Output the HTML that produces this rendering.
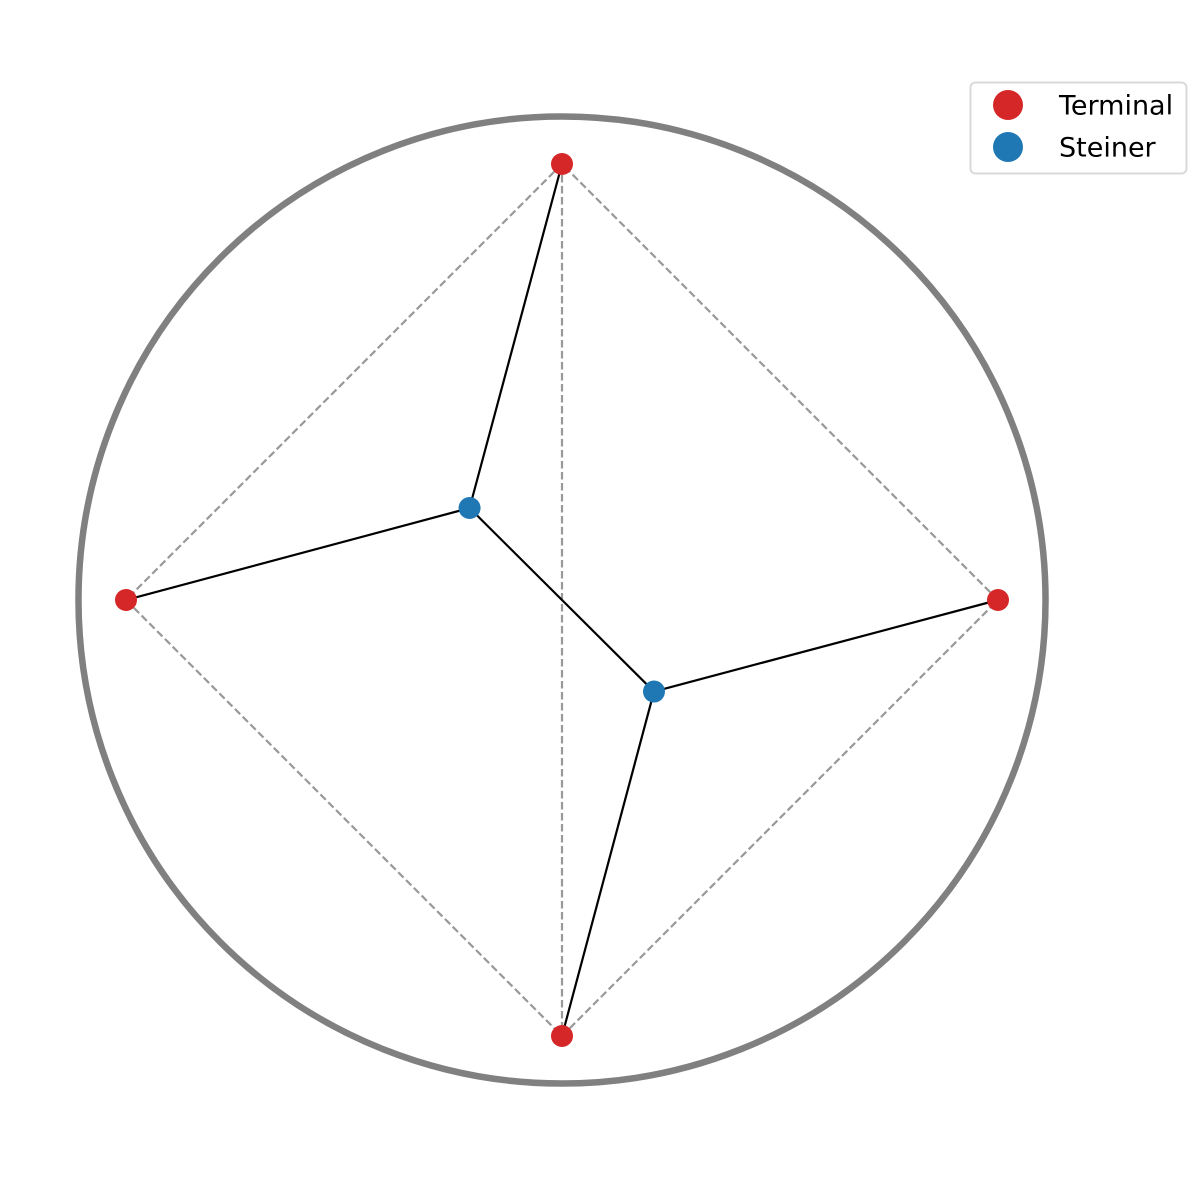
<!DOCTYPE html>
<html><head><meta charset="utf-8">
<style>
html,body{margin:0;padding:0;background:#fff;}
svg{display:block;}
text{font-family:"DejaVu Sans","Liberation Sans",sans-serif;}
</style></head>
<body>
<svg id="chart" width="1200" height="1200" viewBox="0 0 1200 1200"></svg>
<script>
const terminalX = [0, -1, 1, 0];
const terminalY = [1, 0, 0, -1];
const steinerX = [-0.212, 0.211];
const steinerY = [0.211, -0.210];
const circleRadius = 1.109;
// tree edges: [type, index, type, index]
const treeEdges = [["t",0,"s",0],["t",1,"s",0],["s",0,"s",1],["t",2,"s",1],["t",3,"s",1]];
// hull/dashed edges between terminals
const dashedEdges = [[0,1],[1,3],[3,2],[2,0],[0,3]];
const legendLabels = ["Terminal","Steiner"];

const CX = 562, CY = 600, SCALE = 436;
const sx = v => CX + v * SCALE;
const sy = v => CY - v * SCALE;
const NS = "http://www.w3.org/2000/svg";
const svg = document.getElementById("chart");
function mk(tag, attrs){ const e=document.createElementNS(NS,tag); for(const k in attrs) e.setAttribute(k,attrs[k]); svg.appendChild(e); return e; }

let c = mk("circle",{cx:sx(0),cy:sy(0),r:circleRadius*SCALE,fill:"none",stroke:"#808080","stroke-width":6.5});



dashedEdges.forEach(([a,b])=>{
  const l = mk("line",{x1:sx(terminalX[a]),y1:sy(terminalY[a]),x2:sx(terminalX[b]),y2:sy(terminalY[b]),stroke:"#999","stroke-width":2.2,"stroke-dasharray":"7.5,3.5"});
  
  
});

const pt = (t,i) => t==="t" ? [terminalX[i],terminalY[i]] : [steinerX[i],steinerY[i]];
treeEdges.forEach(([t1,i1,t2,i2])=>{
  const p=pt(t1,i1), q=pt(t2,i2);
  const l = mk("line",{x1:sx(p[0]),y1:sy(p[1]),x2:sx(q[0]),y2:sy(q[1]),stroke:"#000","stroke-width":2.2});
  
  
});

terminalX.forEach((x,i)=>{
  const m = mk("circle",{cx:sx(x),cy:sy(terminalY[i]),r:11,fill:"#d62728"});
  
  
});
steinerX.forEach((x,i)=>{
  const m = mk("circle",{cx:sx(x),cy:sy(steinerY[i]),r:11,fill:"#1f77b4"});
  
  
});

// legend
const lg = mk("rect",{x:970.5,y:82.5,width:216,height:91,rx:5,fill:"#fff",stroke:"#d9d9d9","stroke-width":2});


const legendColors = ["#d62728","#1f77b4"];
legendLabels.forEach((lab,i)=>{
  const y = 105 + i*42;
  const m = mk("circle",{cx:1008,cy:y,r:15,fill:legendColors[i]});
  
  
  const t = mk("text",{x:1059,y:y+9.5,"font-size":27,fill:"#000"});
  t.textContent = lab;
  
  
});
</script>
</body></html>
